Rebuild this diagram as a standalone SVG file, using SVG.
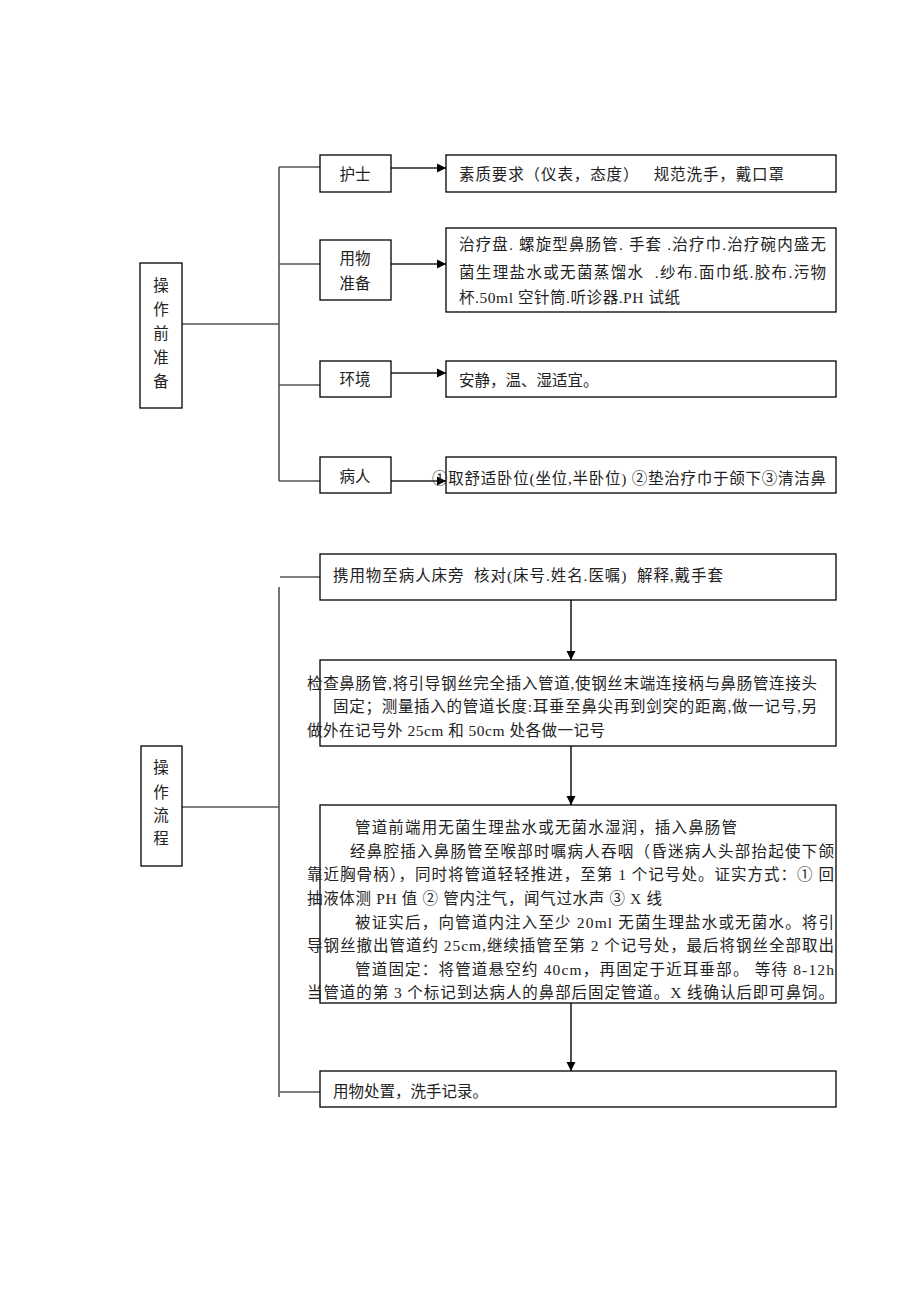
<svg xmlns="http://www.w3.org/2000/svg" width="920" height="1302" viewBox="0 0 920 1302">
<style>
.box{fill:#fff;stroke:#000;stroke-width:1.3}
.ln{fill:none;stroke:#555;stroke-width:1.6}
.ar{fill:none;stroke:#222;stroke-width:1.6}
text{font-family:"Liberation Serif","Noto Sans CJK SC",serif;font-size:15.5px;fill:#222}
.c{text-anchor:middle}
</style>
<defs>
<marker id="ah" markerWidth="10" markerHeight="10" refX="9" refY="5" orient="auto" markerUnits="userSpaceOnUse">
<path d="M0,0.5 L9,5 L0,9.5 z" fill="#000"/>
</marker>
</defs>
<rect width="920" height="1302" fill="#fff"/>
<g id="connectors">
<path class="ln" d="M182,324 H279 M279,167 V481 M279,167 H320 M279,264 H320 M279,385 H320 M279,481 H320"/>
<path class="ar" marker-end="url(#ah)" d="M391,168 H446"/>
<path class="ar" marker-end="url(#ah)" d="M391,264 H446"/>
<path class="ar" marker-end="url(#ah)" d="M391,373 H446"/>
<path class="ar" marker-end="url(#ah)" d="M391,481 H446"/>
<path class="ln" d="M182,807 H279 M279,587 V1097 M280,577 H320 M280,1092 H320"/>
<path class="ar" marker-end="url(#ah)" d="M571,600 V660"/>
<path class="ar" marker-end="url(#ah)" d="M571,746 V805"/>
<path class="ar" marker-end="url(#ah)" d="M571,1003 V1071"/>
</g>
<g id="pre">
<rect class="box" x="140" y="263" width="42" height="145"/>
<text class="c" x="161" y="291">操</text>
<text class="c" x="161" y="315">作</text>
<text class="c" x="161" y="339">前</text>
<text class="c" x="161" y="363">准</text>
<text class="c" x="161" y="387">备</text>
</g>
<g id="nurse">
<rect class="box" x="320" y="155" width="71" height="37"/>
<text class="c" x="355" y="180">护士</text>
</g>
<g id="supplies">
<rect class="box" x="320" y="240" width="71" height="60"/>
<text class="c" x="355" y="264">用物</text>
<text class="c" x="355" y="289">准备</text>
</g>
<g id="env">
<rect class="box" x="320" y="361" width="71" height="36"/>
<text class="c" x="355" y="385">环境</text>
</g>
<g id="patient">
<rect class="box" x="320" y="457" width="71" height="36"/>
<text class="c" x="355" y="482">病人</text>
</g>
<g id="nurse-detail">
<rect class="box" x="446" y="155" width="390" height="37"/>
<text x="459" y="180" textLength="325" lengthAdjust="spacing" xml:space="preserve">素质要求（仪表，态度）   规范洗手，戴口罩</text>
</g>
<g id="supplies-detail">
<rect class="box" x="446" y="228" width="390" height="84"/>
<text x="459" y="250" textLength="367" lengthAdjust="spacing">治疗盘. 螺旋型鼻肠管. 手套 .治疗巾.治疗碗内盛无</text>
<text x="459" y="278" textLength="367" lengthAdjust="spacing" xml:space="preserve">菌生理盐水或无菌蒸馏水  .纱布.面巾纸.胶布.污物</text>
<text x="459" y="303" textLength="221" lengthAdjust="spacing">杯.50ml 空针筒.听诊器.PH 试纸</text>
</g>
<g id="env-detail">
<rect class="box" x="446" y="361" width="390" height="36"/>
<text x="459" y="386">安静，温、湿适宜。</text>
</g>
<g id="patient-detail">
<rect class="box" x="446" y="457" width="390" height="36"/>
<text x="432" y="484" textLength="394" lengthAdjust="spacing">①取舒适卧位(坐位,半卧位) ②垫治疗巾于颌下③清洁鼻</text>
</g>
<g id="proc">
<rect class="box" x="141" y="746" width="41" height="120"/>
<text class="c" x="161" y="773">操</text>
<text class="c" x="161" y="798">作</text>
<text class="c" x="161" y="821">流</text>
<text class="c" x="161" y="844">程</text>
</g>
<g id="step1">
<rect class="box" x="320" y="554" width="516" height="46"/>
<text x="333" y="581" textLength="390" lengthAdjust="spacing" xml:space="preserve">携用物至病人床旁  核对(床号.姓名.医嘱)  解释,戴手套</text>
</g>
<g id="step2">
<rect class="box" x="320" y="660" width="516" height="86"/>
<text x="307" y="689" textLength="510" lengthAdjust="spacing">检查鼻肠管,将引导钢丝完全插入管道,使钢丝末端连接柄与鼻肠管连接头</text>
<text x="333" y="712" textLength="484" lengthAdjust="spacing">固定；测量插入的管道长度:耳垂至鼻尖再到剑突的距离,做一记号,另</text>
<text x="307" y="736" textLength="298" lengthAdjust="spacing">做外在记号外 25cm 和 50cm 处各做一记号</text>
</g>
<g id="step3">
<rect class="box" x="320" y="805" width="516" height="198"/>
<text x="355" y="833" textLength="382" lengthAdjust="spacing">管道前端用无菌生理盐水或无菌水湿润，插入鼻肠管</text>
<text x="350" y="857" textLength="484" lengthAdjust="spacing">经鼻腔插入鼻肠管至喉部时嘱病人吞咽（昏迷病人头部抬起使下颌</text>
<text x="307" y="880" textLength="527" lengthAdjust="spacing">靠近胸骨柄），同时将管道轻轻推进，至第 1 个记号处。证实方式：① 回</text>
<text x="307" y="904" textLength="355" lengthAdjust="spacing">抽液体测 PH 值 ② 管内注气，闻气过水声 ③ X 线</text>
<text x="355" y="928" textLength="479" lengthAdjust="spacing">被证实后，向管道内注入至少 20ml 无菌生理盐水或无菌水。将引</text>
<text x="307" y="951" textLength="527" lengthAdjust="spacing">导钢丝撤出管道约 25cm,继续插管至第 2 个记号处，最后将钢丝全部取出</text>
<text x="355" y="975" textLength="479" lengthAdjust="spacing">管道固定：将管道悬空约 40cm，再固定于近耳垂部。 等待 8-12h</text>
<text x="307" y="998" textLength="527" lengthAdjust="spacing">当管道的第 3 个标记到达病人的鼻部后固定管道。X 线确认后即可鼻饲。</text>
</g>
<g id="step4">
<rect class="box" x="320" y="1071" width="516" height="36"/>
<text x="333" y="1097">用物处置，洗手记录。</text>
</g>
</svg>
